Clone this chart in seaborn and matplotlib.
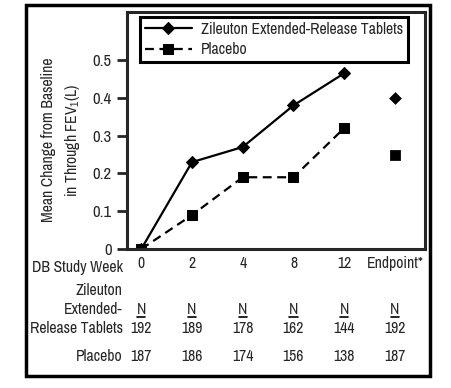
import matplotlib
matplotlib.use("Agg")
import matplotlib.pyplot as plt
from matplotlib import font_manager
import seaborn as sns
import pandas as pd
from matplotlib.patches import Rectangle

weeks = ["0", "2", "4", "8", "12", "Endpoint*"]
zileuton = [0.0, 0.23, 0.27, 0.38, 0.465, 0.40]
placebo = [0.0, 0.09, 0.19, 0.19, 0.32, 0.25]
n_zileuton = [192, 189, 178, 162, 144, 192]
n_placebo = [187, 186, 174, 156, 138, 187]

names = sorted({f.name for f in font_manager.fontManager.ttflist})
narrow = [n for n in names if "Narrow" in n or "Condensed" in n]

sns.set_style("ticks")
plt.rcParams["font.family"] = narrow[:1] + ["Liberation Sans", "DejaVu Sans"]
plt.rcParams["mathtext.fontset"] = "custom"
plt.rcParams["mathtext.rm"] = plt.rcParams["font.family"][0]
fs = 11.3 if narrow else 10

df = pd.DataFrame({"pos": range(len(weeks)), "week": weeks,
                   "zileuton": zileuton, "placebo": placebo})
line_df = df.iloc[:-1]
end_df = df.iloc[-1:]

fig = plt.figure(figsize=(4.52, 3.88), dpi=100)
ax = fig.add_axes([0.281, 0.358, 0.659, 0.611])

sns.lineplot(data=line_df, x="pos", y="zileuton", ax=ax, color="black", lw=1.6,
             marker="D", markersize=6, markeredgecolor="black",
             label="Zileuton Extended-Release Tablets")
sns.lineplot(data=line_df, x="pos", y="placebo", ax=ax, color="black", lw=1.6,
             linestyle=(0, (4, 2.5)), marker="s", markersize=7,
             markeredgecolor="black", label="Placebo")
sns.scatterplot(data=end_df, x="pos", y="zileuton", ax=ax, color="black",
                marker="D", s=36, edgecolor="black", legend=False)
sns.scatterplot(data=end_df, x="pos", y="placebo", ax=ax, color="black",
                marker="s", s=49, edgecolor="black", legend=False)

ax.set_xlim(-0.28, 5.59)
ax.set_ylim(0, 0.627)
ax.set_yticks([0, 0.1, 0.2, 0.3, 0.4, 0.5])
ax.set_yticklabels(["0", "0.1", "0.2", "0.3", "0.4", "0.5"], fontsize=fs + 0.7)
ax.set_xticks(df["pos"])
ax.set_xticklabels(weeks, fontsize=fs)
ax.tick_params(axis="x", length=0, pad=5)
ax.tick_params(axis="y", length=7, width=2, pad=4)
for s in ax.spines.values():
    s.set_linewidth(2.2)
ax.set_xlabel("")
ax.set_ylabel("Mean Change from Baseline\nin Through FEV$_1$(L)", fontsize=fs,
              linespacing=1.5)
ax.yaxis.set_label_coords(-0.152, 0.46)

leg = ax.legend(loc="upper left", bbox_to_anchor=(0.044, 0.979), borderaxespad=0,
                fontsize=fs, handlelength=3.0, fancybox=False, framealpha=1,
                edgecolor="black", borderpad=0.3, labelspacing=0.35,
                handletextpad=0.6)
leg.get_frame().set_linewidth(2.2)

# table rows below the plot
tr = ax.get_xaxis_transform()
row_labels = [("DB Study Week", -0.076), ("Zileuton", -0.173), ("Extended-", -0.253),
              ("Release Tablets", -0.333), ("Placebo", -0.451)]
for txt, yy in row_labels:
    ax.text(-0.36, yy, txt, transform=tr, ha="right", va="center", fontsize=fs)
for i in range(len(weeks)):
    ax.text(i, -0.253, "N", transform=tr, ha="center", va="center", fontsize=fs)
    ax.plot([i - 0.08, i + 0.08], [-0.285, -0.285], transform=tr, color="black",
            lw=1.2, clip_on=False)
    ax.text(i, -0.333, str(n_zileuton[i]), transform=tr, ha="center", va="center", fontsize=fs)
    ax.text(i, -0.451, str(n_placebo[i]), transform=tr, ha="center", va="center", fontsize=fs)

fig.patches.append(Rectangle((0.0575, 0.031), 0.8935, 0.956, transform=fig.transFigure,
                             fill=False, edgecolor="black", linewidth=2.5))

fig.savefig("out.png", dpi=100)
